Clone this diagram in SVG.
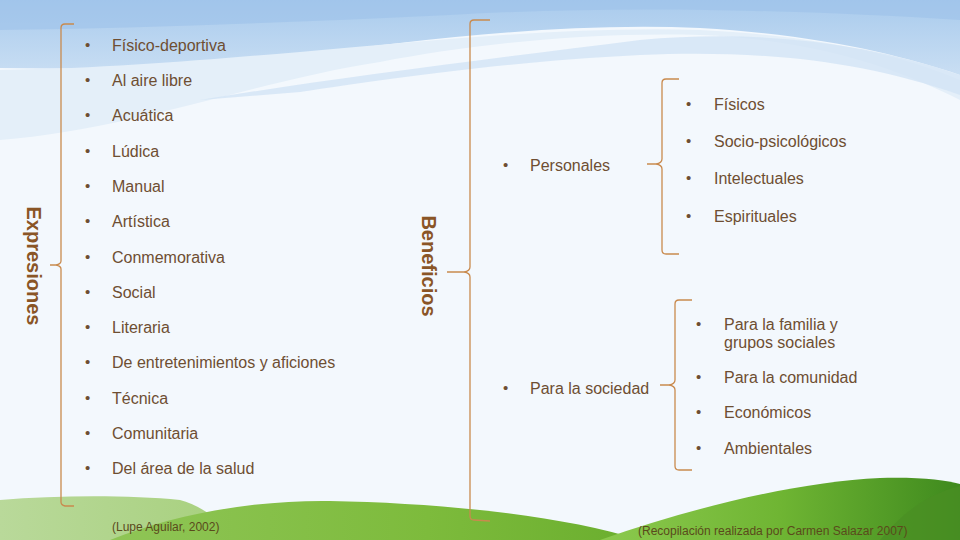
<svg xmlns="http://www.w3.org/2000/svg" width="960" height="540" viewBox="0 0 960 540">
<defs>
<linearGradient id="sky" x1="0" y1="0" x2="0" y2="1">
<stop offset="0" stop-color="#a9cbed"/><stop offset="1" stop-color="#c9def3"/>
</linearGradient>
<linearGradient id="hill1" x1="0" y1="0" x2="1" y2="0">
<stop offset="0" stop-color="#b9d99a"/><stop offset="1" stop-color="#a7d07d"/>
</linearGradient>
<linearGradient id="hill2" x1="0" y1="0" x2="1" y2="0">
<stop offset="0" stop-color="#8fc556"/><stop offset="0.6" stop-color="#7dbb3c"/><stop offset="1" stop-color="#6aae2e"/>
</linearGradient>
<linearGradient id="hill3" x1="0" y1="0" x2="1" y2="0">
<stop offset="0" stop-color="#8cc94e"/><stop offset="0.5" stop-color="#6fb533"/><stop offset="1" stop-color="#3f8a1e"/>
</linearGradient>
<style>
.t{font-family:"Liberation Sans",Arial,sans-serif;font-size:16px;fill:#6e4e32}
.b{font-family:"Liberation Sans",Arial,sans-serif;font-size:15px;fill:#6e4e32}
.h{font-family:"Liberation Sans",Arial,sans-serif;font-size:20px;font-weight:bold;fill:#8a5526}
.c{font-family:"Liberation Sans",Arial,sans-serif;font-size:12px;fill:#5a4a1c}
.br{fill:none;stroke:#c98a4e;stroke-width:1.3}
</style>
</defs>
<rect width="960" height="540" fill="#f3f8fd"/>
<g id="background">
<path d="M0 0H960V75C900 55 820 35 700 28C560 22 420 40 300 55C200 66 100 70 0 68Z" fill="url(#sky)"/>
<path d="M0 70C120 68 200 60 300 52C420 42 560 26 700 30C820 36 900 55 960 80V100C900 70 820 40 700 35C580 32 470 45 380 62C260 80 130 130 0 140Z" fill="#e4eff9"/>
<path d="M200 100C320 80 480 60 640 40C750 30 860 40 960 75V95C860 60 760 50 640 55C500 62 380 80 300 92Z" fill="#d2e4f5" opacity="0.8"/>
<path d="M0 0H960V20C800 10 620 5 450 15C300 22 150 28 0 30Z" fill="#9cc2ea" opacity="0.6"/>
<path d="M0 500C60 495 130 495 180 500C200 505 220 520 240 540H0Z" fill="url(#hill1)"/>
<path d="M110 540C180 512 260 500 330 501C440 503 560 515 640 540Z" fill="url(#hill2)"/>
<path d="M600 540C700 505 800 482 880 478C920 477 945 480 960 484V540Z" fill="url(#hill3)"/>
<path d="M880 540C900 515 925 495 960 486V540Z" fill="#4a8f24" opacity="0.7"/>
</g>
<g id="connectors">
<path class="br" d="M74 24H65Q61 24 61 28V261Q61 264 56 265H50M56 265Q61 266 61 269V502Q61 505 65 506L74 506"/>
<path class="br" d="M490 20H474Q470 20 470 24V267Q470 271 464 272H447M464 272Q470 273 470 277V516Q470 520 474 520L490 521"/>
<path class="br" d="M679 79H666Q662 79 662 83V159Q662 163 656 164H647M656 164Q662 165 662 169V250Q662 254 666 254L679 254"/>
<path class="br" d="M692 300H679Q675 300 675 304V380Q675 384 669 385H660M669 385Q675 386 675 390V466Q675 470 679 470L692 470"/>
</g>
<g id="expresiones">
<text class="h" transform="translate(27 266) rotate(90)" text-anchor="middle">Expresiones</text>
</g>
<g id="expresiones-list">
<text class="b" x="85" y="50">•</text><text class="t" x="112" y="51">Físico-deportiva</text>
<text class="b" x="85" y="85">•</text><text class="t" x="112" y="86">Al aire libre</text>
<text class="b" x="85" y="120">•</text><text class="t" x="112" y="121">Acuática</text>
<text class="b" x="85" y="156">•</text><text class="t" x="112" y="157">Lúdica</text>
<text class="b" x="85" y="191">•</text><text class="t" x="112" y="192">Manual</text>
<text class="b" x="85" y="226">•</text><text class="t" x="112" y="227">Artística</text>
<text class="b" x="85" y="262">•</text><text class="t" x="112" y="263">Conmemorativa</text>
<text class="b" x="85" y="297">•</text><text class="t" x="112" y="298">Social</text>
<text class="b" x="85" y="332">•</text><text class="t" x="112" y="333">Literaria</text>
<text class="b" x="85" y="367">•</text><text class="t" x="112" y="368">De entretenimientos y aficiones</text>
<text class="b" x="85" y="403">•</text><text class="t" x="112" y="404">Técnica</text>
<text class="b" x="85" y="438">•</text><text class="t" x="112" y="439">Comunitaria</text>
<text class="b" x="85" y="473">•</text><text class="t" x="112" y="474">Del área de la salud</text>
</g>
<g id="beneficios">
<text class="h" transform="translate(422 266) rotate(90)" text-anchor="middle">Beneficios</text>
</g>
<g id="personales">
<text class="b" x="503" y="170">•</text><text class="t" x="530" y="171">Personales</text>
</g>
<g id="personales-list">
<text class="b" x="686" y="109">•</text><text class="t" x="714" y="110">Físicos</text>
<text class="b" x="686" y="146">•</text><text class="t" x="714" y="147">Socio-psicológicos</text>
<text class="b" x="686" y="183">•</text><text class="t" x="714" y="184">Intelectuales</text>
<text class="b" x="686" y="221">•</text><text class="t" x="714" y="222">Espirituales</text>
</g>
<g id="sociedad">
<text class="b" x="503" y="393">•</text><text class="t" x="530" y="394">Para la sociedad</text>
</g>
<g id="sociedad-list">
<text class="b" x="696" y="329">•</text><text class="t" x="724" y="330">Para la familia y</text><text class="t" x="724" y="348">grupos sociales</text>
<text class="b" x="696" y="382">•</text><text class="t" x="724" y="383">Para la comunidad</text>
<text class="b" x="696" y="417">•</text><text class="t" x="724" y="418">Económicos</text>
<text class="b" x="696" y="453">•</text><text class="t" x="724" y="454">Ambientales</text>
</g>
<g id="citas">
<text class="c" x="112" y="531">(Lupe Aguilar, 2002)</text>
<text class="c" x="638" y="535">(Recopilación realizada por Carmen Salazar 2007)</text>
</g>
</svg>
